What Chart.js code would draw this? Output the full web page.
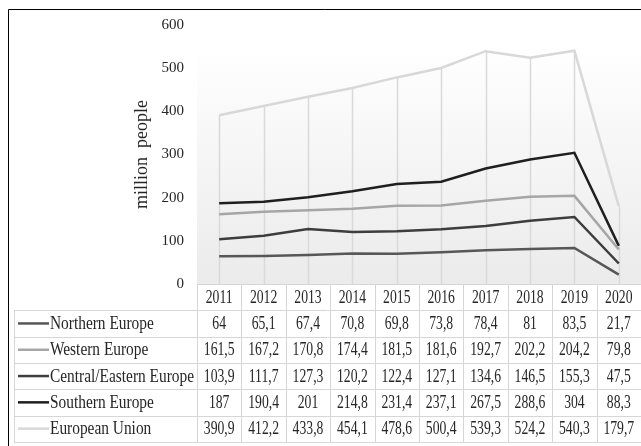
<!DOCTYPE html>
<html>
<head>
<meta charset="utf-8">
<script src="https://cdn.jsdelivr.net/npm/chart.js@4"></script>
<style>
  html, body { margin: 0; padding: 0; background: #fff; }
  canvas { display: block; }
</style>
</head>
<body>
<canvas id="tourismChart" width="641" height="446"></canvas>
<script>
// Données : années et séries (millions de personnes)
const years = ["2011", "2012", "2013", "2014", "2015", "2016", "2017", "2018", "2019", "2020"];
const northernEurope = [64, 65.1, 67.4, 70.8, 69.8, 73.8, 78.4, 81, 83.5, 21.7];
const westernEurope = [161.5, 167.2, 170.8, 174.4, 181.5, 181.6, 192.7, 202.2, 204.2, 79.8];
const centralEasternEurope = [103.9, 111.7, 127.3, 120.2, 122.4, 127.1, 134.6, 146.5, 155.3, 47.5];
const southernEurope = [187, 190.4, 201, 214.8, 231.4, 237.1, 267.5, 288.6, 304, 88.3];
const europeanUnion = [390.9, 412.2, 433.8, 454.1, 478.6, 500.4, 539.3, 524.2, 540.3, 179.7];
const yTicks = [0, 100, 200, 300, 400, 500, 600];

const series = [
  { label: "Northern Europe", data: northernEurope, color: "#575757" },
  { label: "Western Europe", data: westernEurope, color: "#a6a6a6" },
  { label: "Central/Eastern Europe", data: centralEasternEurope, color: "#3d3d3d" },
  { label: "Southern Europe", data: southernEurope, color: "#1f1f1f" },
  { label: "European Union", data: europeanUnion, color: "#d8d8d8" }
];

const fontFamily = "'Liberation Serif', 'Times New Roman', serif";
const textColor = "#262626";
const tableLine = "#d6d6d6";
const rowHeight = 26.3;

// texte resserré horizontalement
function drawText(ctx, text, x, y, align, squeeze) {
  ctx.save();
  ctx.translate(x, y);
  ctx.scale(squeeze, 1);
  ctx.textAlign = align;
  ctx.textBaseline = "middle";
  ctx.fillText(text, 0, 0);
  ctx.restore();
}

function formatValue(v) {
  return String(v).replace(".", ",");
}

// fond dégradé + cadre
const backgroundPlugin = {
  id: "background",
  beforeDraw(chart) {
    const ctx = chart.ctx;
    const area = chart.chartArea;
    ctx.save();
    const top = 55;
    const grad = ctx.createLinearGradient(0, top, 0, area.bottom);
    grad.addColorStop(0, "#fefefe");
    grad.addColorStop(1, "#ebebeb");
    ctx.fillStyle = grad;
    ctx.fillRect(area.left, top, area.right - area.left, area.bottom - top);

    ctx.strokeStyle = "#000";
    ctx.lineWidth = 1;
    ctx.beginPath();
    ctx.moveTo(8.5, 446);
    ctx.lineTo(8.5, 9.5);
    ctx.lineTo(641, 9.5);
    ctx.stroke();
    ctx.restore();
  }
};

// lignes de projection verticales
const dropLinesPlugin = {
  id: "dropLines",
  beforeDatasetsDraw(chart) {
    const ctx = chart.ctx;
    const x = chart.scales.x;
    const y = chart.scales.y;
    ctx.save();
    ctx.strokeStyle = "#d9d9d9";
    ctx.lineWidth = 1.5;
    years.forEach((year, i) => {
      let maxVal = 0;
      series.forEach(s => { maxVal = Math.max(maxVal, s.data[i]); });
      const px = Math.round(x.getPixelForValue(i)) + 0.5;
      ctx.beginPath();
      ctx.moveTo(px, y.getPixelForValue(maxVal));
      ctx.lineTo(px, y.getPixelForValue(0));
      ctx.stroke();
    });
    ctx.restore();
  }
};

// tableau de données sous le graphique
const dataTablePlugin = {
  id: "dataTable",
  afterDraw(chart) {
    const ctx = chart.ctx;
    const x = chart.scales.x;
    const top = chart.chartArea.bottom;
    const half = (x.getPixelForValue(1) - x.getPixelForValue(0)) / 2;
    const tableLeft = 14;
    const colLeft = x.getPixelForValue(0) - half;
    const rowsTop = top + rowHeight;
    const bottom = rowsTop + rowHeight * series.length;

    ctx.save();
    ctx.strokeStyle = tableLine;
    ctx.lineWidth = 1;

    // lignes horizontales
    ctx.beginPath();
    ctx.moveTo(colLeft, Math.round(top) + 0.5);
    ctx.lineTo(641, Math.round(top) + 0.5);
    for (let r = 0; r <= series.length; r++) {
      const ly = Math.round(rowsTop + r * rowHeight) + 0.5;
      ctx.moveTo(tableLeft, ly);
      ctx.lineTo(641, ly);
    }
    // lignes verticales
    ctx.moveTo(tableLeft + 0.5, Math.round(rowsTop));
    ctx.lineTo(tableLeft + 0.5, Math.round(bottom));
    for (let c = 0; c <= years.length; c++) {
      const lx = Math.round(colLeft + c * half * 2) + 0.5;
      ctx.moveTo(lx, Math.round(top));
      ctx.lineTo(lx, Math.round(bottom));
    }
    ctx.stroke();

    ctx.fillStyle = textColor;
    ctx.font = "18px " + fontFamily;

    // en-tête des années
    years.forEach((year, i) => {
      drawText(ctx, year, x.getPixelForValue(i), top + rowHeight / 2 + 1, "center", 0.76);
    });

    // lignes des séries
    series.forEach((s, r) => {
      const cy = rowsTop + r * rowHeight + rowHeight / 2 + 1;
      ctx.strokeStyle = s.color;
      ctx.lineWidth = 2.5;
      ctx.beginPath();
      ctx.moveTo(18, cy - 1);
      ctx.lineTo(49, cy - 1);
      ctx.stroke();
      drawText(ctx, s.label, 50, cy, "left", 0.855);
      s.data.forEach((v, i) => {
        drawText(ctx, formatValue(v), x.getPixelForValue(i), cy, "center", 0.76);
      });
    });
    ctx.restore();
  }
};

const ctx = document.getElementById("tourismChart");
const tourismChart = new Chart(ctx, {
  type: "line",
  data: {
    labels: years,
    datasets: series.map(s => ({
      label: s.label,
      data: s.data,
      borderColor: s.color,
      backgroundColor: s.color,
      borderWidth: 2.5,
      pointRadius: 0,
      tension: 0,
      fill: false
    }))
  },
  options: {
    responsive: false,
    animation: false,
    layout: {
      padding: { top: 25, right: 0, bottom: 162, left: 127 }
    },
    plugins: {
      legend: { display: false },
      tooltip: { enabled: false }
    },
    scales: {
      x: {
        type: "category",
        offset: true,
        display: false
      },
      y: {
        min: yTicks[0],
        max: yTicks[yTicks.length - 1],
        afterFit(scale) {
          scale.width = 70;
        },
        ticks: {
          stepSize: 100,
          padding: 13,
          color: textColor,
          font: { family: fontFamily, size: 15 }
        },
        grid: { display: false, drawTicks: false },
        border: { display: false },
        title: {
          display: true,
          text: "million  people",
          color: textColor,
          font: { family: fontFamily, size: 18 }
        }
      }
    }
  },
  plugins: [backgroundPlugin, dropLinesPlugin, dataTablePlugin]
});
</script>
</body>
</html>
